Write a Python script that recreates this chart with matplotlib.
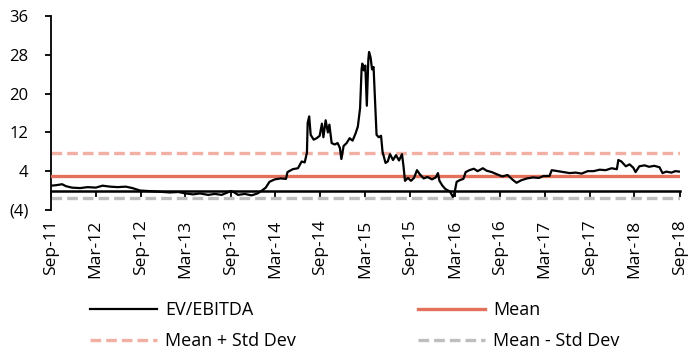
import numpy as np
import pandas as pd
import matplotlib
matplotlib.use("Agg")
import matplotlib.pyplot as plt
from matplotlib.ticker import FuncFormatter

plt.rcParams['font.family'] = ['Open Sans', 'DejaVu Sans']

# months elapsed since Sep-2011 and the EV/EBITDA multiple at that point
months = [0, 0.7, 1.5, 2, 2.8, 3.9, 4.9, 6, 6.9, 7.9, 8.9, 10, 10.9, 11.9, 13, 14, 15, 15.9,
          17, 18, 19, 19.9, 21, 21.9, 22.8, 23.6, 24, 24.4, 25, 25.9, 26.8, 27.6, 28.2, 28.7,
          29.2, 29.9, 30.7, 31.4, 31.6, 32.3, 33, 33.5, 33.9, 34.2, 34.3, 34.5, 34.7, 35.1,
          35.5, 35.9, 36.2, 36.4, 36.7, 37, 37.2, 37.5, 37.9, 38.3, 38.6, 38.8, 39.1, 39.5,
          39.9, 40.3, 40.7, 41, 41.3, 41.5, 41.6, 41.8, 42, 42.2, 42.4, 42.5, 42.7, 42.9,
          43.1, 43.3, 43.5, 43.8, 44.1, 44.3, 44.7, 45, 45.3, 45.7, 46.1, 46.5, 46.9, 47.1,
          47.3, 47.7, 48.1, 48.5, 48.9, 49.3, 49.8, 50.3, 50.9, 51.4, 51.7, 51.9, 52.3, 52.7,
          53.3, 53.7, 53.9, 54.2, 54.7, 55.1, 55.4, 55.9, 56.5, 57, 57.7, 58.2, 58.9, 59.5,
          60.3, 61, 61.7, 62.2, 62.8, 63.6, 64.4, 65.2, 65.8, 66.6, 66.9, 67.7, 68.5, 69.3,
          70.1, 70.9, 71.7, 72.5, 73.3, 74.1, 74.9, 75.6, 75.8, 76.2, 76.8, 77.3, 77.8, 78.1,
          78.6, 79.3, 79.9, 80.6, 81.3, 81.7, 82.2, 82.9, 83.4, 84]
ev_ebitda = [1.0, 1.1, 1.3, 0.9, 0.6, 0.5, 0.7, 0.6, 1.0, 0.8, 0.7, 0.8, 0.5, 0.0, -0.1, -0.2,
             -0.3, -0.4, -0.3, -0.6, -0.8, -0.6, -0.9, -0.7, -0.9, -0.4, -0.1, -0.3, -0.9, -0.7,
             -1.0, -0.6, 0.0, 0.6, 1.8, 2.3, 2.5, 2.4, 3.8, 4.4, 4.6, 6.0, 5.8, 7.8, 14.0, 15.3,
             11.5, 10.5, 10.8, 11.3, 13.8, 11.0, 14.5, 12.0, 13.6, 9.8, 9.5, 9.8, 8.8, 6.5, 9.2,
             9.8, 10.8, 10.3, 11.8, 13.2, 17.0, 25.0, 26.2, 24.8, 25.8, 17.5, 27.0, 28.6, 27.5,
             25.0, 25.5, 18.5, 11.5, 11.0, 11.3, 8.0, 5.7, 6.0, 7.5, 6.3, 7.3, 6.2, 7.5, 5.0,
             2.0, 2.6, 2.0, 2.6, 4.2, 3.3, 2.5, 2.8, 2.3, 2.7, 3.6, 2.0, 1.0, 0.3, -0.2, -1.3,
             -0.6, 1.8, 2.2, 2.4, 3.8, 4.2, 4.5, 4.0, 4.6, 4.1, 3.8, 3.4, 2.9, 3.2, 2.2, 1.6,
             2.1, 2.5, 2.7, 2.6, 3.0, 3.0, 4.2, 4.0, 3.8, 3.6, 3.7, 3.5, 4.0, 4.0, 4.3, 4.2,
             4.6, 4.4, 6.3, 6.0, 5.0, 5.4, 4.7, 3.8, 5.0, 5.2, 4.9, 5.1, 4.8, 3.6, 3.9, 3.7,
             4.0, 3.9]

mean_val = 3.1
std_val = 4.65
tick_labels = ['Sep-11', 'Mar-12', 'Sep-12', 'Mar-13', 'Sep-13', 'Mar-14', 'Sep-14',
               'Mar-15', 'Sep-15', 'Mar-16', 'Sep-16', 'Mar-17', 'Sep-17', 'Mar-18', 'Sep-18']
y_ticks = [-4, 4, 12, 20, 28, 36]

start = pd.Timestamp('2011-09-01')
dates = start + pd.to_timedelta(np.array(months) * 30.44, unit='D')
tick_dates = pd.to_datetime(tick_labels, format='%b-%y')

fig = plt.figure(figsize=(6.88, 3.51), dpi=100)
ax = fig.add_axes([0.074, 0.402, 0.914, 0.552])

dash = (0, (3.2, 1.5))
l_ev, = ax.plot(dates, ev_ebitda, color='black', lw=1.6, label='EV/EBITDA', zorder=4)
l_mean = ax.axhline(mean_val, color='#E2705A', lw=2.4, label='Mean', zorder=3)
l_up = ax.axhline(mean_val + std_val, color='#F2B0A4', lw=2.4, ls=dash,
                  label='Mean + Std Dev', zorder=2)
l_dn = ax.axhline(mean_val - std_val, color='#BEBEBE', lw=2.4, ls=dash,
                  label='Mean - Std Dev', zorder=2)

ymin, ymax = -4, 36
ax.set_ylim(ymin, ymax)
ax.set_xlim(tick_dates[0], tick_dates[-1])
ax.set_yticks(y_ticks)
ax.yaxis.set_major_formatter(FuncFormatter(lambda v, p: f'({abs(int(v))})' if v < 0 else f'{int(v)}'))
ax.tick_params(axis='y', labelsize=12, length=4, width=1.3, pad=12)

for s in ['top', 'right', 'bottom']:
    ax.spines[s].set_visible(False)
ax.spines['left'].set_linewidth(1.3)

# date labels sit below the plot, tick marks sit on the zero line
ax.set_xticks(tick_dates)
ax.set_xticklabels(tick_labels, rotation=90)
ax.tick_params(axis='x', length=0, labelsize=12.5, pad=7)

zero = ax.secondary_xaxis((0 - ymin) / (ymax - ymin))
zero.set_xticks(tick_dates)
zero.tick_params(axis='x', length=4, width=1.3, labelbottom=False, direction='out')
zero.spines['bottom'].set_linewidth(1.8)

# column-wise fill: EV/EBITDA, Mean on the first row
ax.legend([l_ev, l_up, l_mean, l_dn], ['EV/EBITDA', 'Mean + Std Dev', 'Mean', 'Mean - Std Dev'],
          loc='upper left', bbox_to_anchor=(0.051, -0.435), ncol=2, frameon=False,
          fontsize=13, handlelength=3.7, handletextpad=0.45, columnspacing=6.75,
          labelspacing=0.7, borderaxespad=0)

fig.savefig('out.png', dpi=100)
